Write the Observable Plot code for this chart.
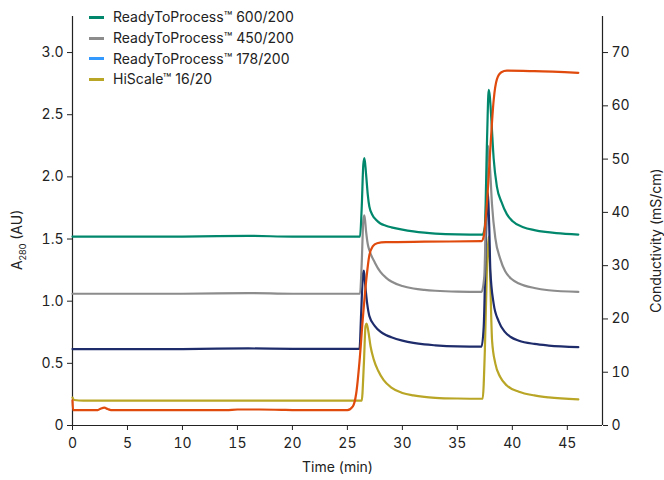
<!DOCTYPE html>
<html>
<head>
<meta charset="utf-8">
<script src="https://cdn.jsdelivr.net/npm/d3@7"></script>
<script src="https://cdn.jsdelivr.net/npm/@observablehq/plot@0.6"></script>
<style>
  body { margin: 0; background: #fff; }
  #wrap { position: relative; width: 664px; height: 480px; font-family: Inter, "Noto Sans", sans-serif; color: #222; }
  #legend { position: absolute; left: 89px; top: 7px; font-size: 14px; line-height: 20.8px; }
  #legend .row { display: flex; align-items: center; white-space: nowrap; }
  #legend .sw { width: 15px; height: 3px; margin-right: 9px; }
  .ylab { position: absolute; font-size: 14px; white-space: nowrap; transform-origin: center; }
</style>
</head>
<body>
<div id="wrap"></div>
<script>
// Time (min) vs A280 (AU)
const rtp600 = [[0,1.52],[10,1.52],[16,1.525],[20,1.52],[26.15,1.52],[26.3,1.75],[26.45,2.1],[26.55,2.15],[26.7,2.02],[26.85,1.86],[27,1.76],[27.3,1.69],[27.6,1.655],[28,1.625],[28.5,1.607],[29,1.594],[30,1.575],[31,1.561],[32,1.551],[33,1.544],[35,1.537],[37.3,1.535],[37.5,1.6],[37.7,2.3],[37.85,2.70],[37.95,2.65],[38.1,2.45],[38.3,2.15],[38.6,1.92],[39,1.8],[39.5,1.7],[40,1.645],[41,1.595],[42,1.572],[43,1.557],[44,1.547],[46,1.536]];
const rtp450 = [[0,1.06],[10,1.06],[16,1.065],[20,1.06],[26.15,1.06],[26.3,1.3],[26.45,1.65],[26.55,1.69],[26.7,1.56],[26.85,1.46],[27,1.41],[27.5,1.31],[28,1.235],[28.5,1.19],[29,1.158],[30,1.122],[31,1.102],[32,1.091],[33,1.084],[35,1.077],[37.2,1.075],[37.45,1.2],[37.65,1.9],[37.8,2.25],[37.95,2.1],[38.15,1.78],[38.45,1.51],[38.9,1.34],[39.35,1.24],[39.9,1.18],[40.6,1.143],[42,1.106],[43.3,1.088],[46,1.075]];
const rtp178 = [[0,0.615],[10,0.615],[16,0.62],[20,0.617],[26.1,0.617],[26.25,0.9],[26.4,1.2],[26.5,1.246],[26.6,1.15],[26.8,0.98],[27,0.88],[27.5,0.8],[28,0.755],[28.5,0.728],[29,0.71],[30,0.683],[31,0.664],[32,0.652],[33,0.645],[35,0.637],[37.2,0.635],[37.4,0.8],[37.6,1.5],[37.75,1.88],[37.9,1.6],[38.0,1.25],[38.3,0.98],[38.75,0.84],[39.3,0.755],[39.85,0.712],[40.6,0.682],[42,0.656],[43.3,0.643],[46,0.63]];
const hiscale = [[0,0.225],[0.15,0.205],[1,0.2],[10,0.2],[20,0.2],[26.3,0.2],[26.5,0.5],[26.65,0.8],[26.75,0.82],[26.9,0.76],[27.1,0.64],[27.4,0.53],[27.8,0.44],[28.3,0.365],[29,0.305],[30,0.262],[31,0.242],[32,0.23],[33,0.223],[35,0.217],[37.3,0.215],[37.5,0.6],[37.7,1.3],[37.85,1.52],[37.95,1.3],[38.16,0.68],[38.45,0.5],[38.9,0.39],[39.5,0.322],[40.6,0.272],[42,0.242],[43.3,0.226],[46,0.21]];
// Time (min) vs conductivity (mS/cm)
const conductivity = [[0,4.7],[0.05,2.9],[2.3,2.9],[2.6,3.2],[2.9,3.35],[3.2,3.1],[3.5,2.9],[14,2.9],[15,3.0],[17,3.0],[19,2.95],[20,2.9],[25.0,2.9],[25.5,3.6],[25.8,6],[26.1,12],[26.4,20],[26.7,27],[27.0,32],[27.3,33.6],[27.7,34.2],[28.5,34.4],[32,34.5],[37.2,34.6],[37.4,35.5],[37.7,42],[38.0,52],[38.3,61],[38.6,65],[39,66.3],[39.5,66.6],[42,66.5],[46,66.2]];

const xTicks = [0,5,10,15,20,25,30,35,40,45];
const yTicks = [0,0.5,1.0,1.5,2.0,2.5,3.0];
const condTicks = [0,10,20,30,40,50,60,70];
const seriesNames = ["ReadyToProcess™ 600/200","ReadyToProcess™ 450/200","ReadyToProcess™ 178/200","HiScale™ 16/20"];
const legendColors = ["#00876c","#8c8c8c","#3399ff","#b9a526"];
const traceColors = ["#00876c","#8c8c8c","#1e2c6b","#b9a526"];
const condColor = "#e04a0c";

const K = 3.0 / 70; // conductivity -> A280 scale
const xMax = 48.2, yMax = 3.29;

const plot = Plot.plot({
  width: 664, height: 480,
  marginLeft: 72, marginRight: 62, marginTop: 16, marginBottom: 55,
  style: { fontFamily: "Inter, 'Noto Sans', sans-serif", fontSize: "14px", color: "#222", background: "#fff" },
  x: { domain: [0, xMax] },
  y: { domain: [0, yMax] },
  marks: [
    Plot.axisX(xTicks, { tickSize: 5, tickPadding: 8, label: "Time (min)", labelAnchor: "center", labelArrow: "none", labelOffset: 46, fontSize: 14 }),
    Plot.axisY(yTicks, { anchor: "left", tickSize: 5, tickPadding: 4, label: null, tickFormat: d => d === 0 ? "0" : d.toFixed(1), fontSize: 14 }),
    Plot.axisY(condTicks.map(c => c * K), { anchor: "right", tickSize: 5, tickPadding: 4, label: null, tickFormat: (d, i) => String(condTicks[i]), fontSize: 14 }),
    Plot.ruleX([0], { stroke: "#222", strokeWidth: 1.2 }),
    Plot.ruleX([xMax], { stroke: "#222", strokeWidth: 1.2 }),
    Plot.ruleY([0], { stroke: "#222", strokeWidth: 1.2 }),
    Plot.line(hiscale, { x: d => d[0], y: d => d[1], stroke: traceColors[3], strokeWidth: 2.2, curve: "monotone-x" }),
    Plot.line(rtp178, { x: d => d[0], y: d => d[1], stroke: traceColors[2], strokeWidth: 2.2, curve: "monotone-x" }),
    Plot.line(rtp450, { x: d => d[0], y: d => d[1], stroke: traceColors[1], strokeWidth: 2.2, curve: "monotone-x" }),
    Plot.line(rtp600, { x: d => d[0], y: d => d[1], stroke: traceColors[0], strokeWidth: 2.2, curve: "monotone-x" }),
    Plot.line(conductivity, { x: d => d[0], y: d => d[1] * K, stroke: condColor, strokeWidth: 2.2, curve: "monotone-x" })
  ]
});

const wrap = document.getElementById("wrap");
wrap.appendChild(plot);

const legend = document.createElement("div");
legend.id = "legend";
seriesNames.forEach((name, i) => {
  const row = document.createElement("div");
  row.className = "row";
  const sw = document.createElement("span");
  sw.className = "sw";
  sw.style.background = legendColors[i];
  const tx = document.createElement("span");
  tx.textContent = name;
  row.appendChild(sw); row.appendChild(tx);
  legend.appendChild(row);
});
wrap.appendChild(legend);

const yl = document.createElement("div");
yl.className = "ylab";
yl.innerHTML = 'A<sub style="font-size:9px">280</sub> (AU)';
wrap.appendChild(yl);
yl.style.left = (18 - yl.offsetWidth / 2) + "px";
yl.style.top = (240 - yl.offsetHeight / 2) + "px";
yl.style.transform = "rotate(-90deg)";

const yr = document.createElement("div");
yr.className = "ylab";
yr.textContent = "Conductivity (mS/cm)";
wrap.appendChild(yr);
yr.style.left = (655 - yr.offsetWidth / 2) + "px";
yr.style.top = (240 - yr.offsetHeight / 2) + "px";
yr.style.transform = "rotate(-90deg)";
</script>
</body>
</html>
